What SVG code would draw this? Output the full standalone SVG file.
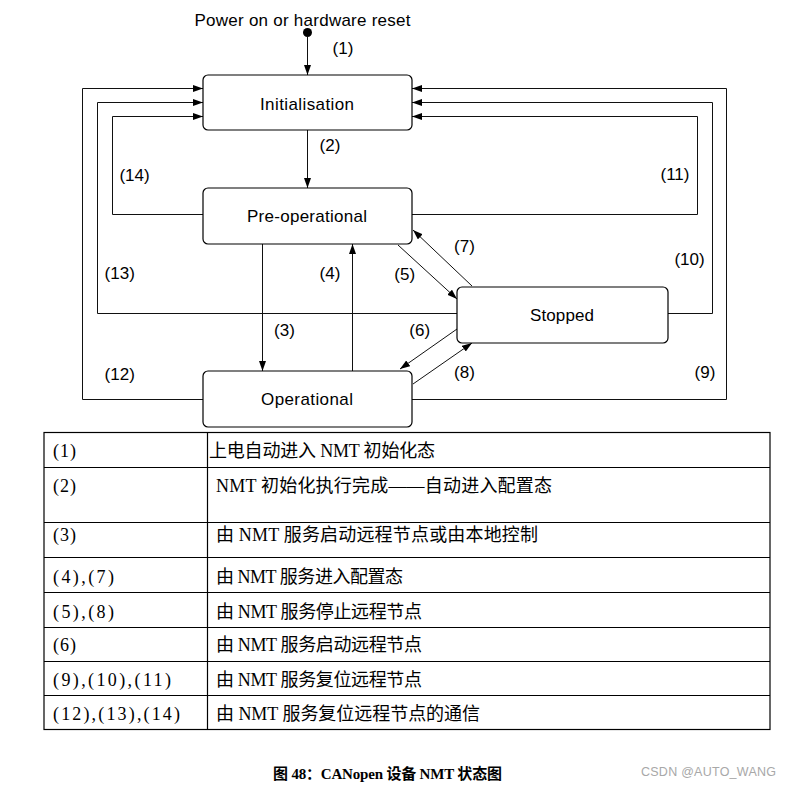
<svg xmlns="http://www.w3.org/2000/svg" width="793" height="788" viewBox="0 0 793 788">
<style>
.box{fill:#fff;stroke:#000;stroke-width:1.2}
.lbl{font-family:"Liberation Sans",Arial,sans-serif;font-size:17px;fill:#000;text-anchor:middle}
.c{fill:none;stroke:#111;stroke-width:1}
.tb{fill:none;stroke:#000;stroke-width:1.2}
.num{font-family:"Liberation Serif","Noto Sans CJK SC",serif;font-size:18px;fill:#000}
.cn{font-family:"Liberation Serif","Noto Sans CJK SC",serif;font-size:18px;fill:#000}
</style>
<defs>
<marker id="ah" markerUnits="userSpaceOnUse" markerWidth="11" markerHeight="8" refX="10" refY="3.5" orient="auto">
<path d="M0,0 L10,3.5 L0,7 z" fill="#000"/>
</marker>
</defs>
<rect width="793" height="788" fill="#fff"/>

<text class="lbl" x="302.5" y="26" textLength="216">Power on or hardware reset</text>

<g id="connectors">
<circle cx="307.5" cy="32.5" r="4.5" fill="#000"/>
<path class="c" d="M307.5,36 V75" marker-end="url(#ah)"/>
<path class="c" d="M307.5,130 V188" marker-end="url(#ah)"/>
<path class="c" d="M262.5,244 V371" marker-end="url(#ah)"/>
<path class="c" d="M352.5,371 V244" marker-end="url(#ah)"/>
<path class="c" d="M398,245 L457,299" marker-end="url(#ah)"/>
<path class="c" d="M472,286 L413,230" marker-end="url(#ah)"/>
<path class="c" d="M457,329 L400,369" marker-end="url(#ah)"/>
<path class="c" d="M413,384 L472,343" marker-end="url(#ah)"/>
<path class="c" d="M412,399.5 H726.5 V88.5 H412" marker-end="url(#ah)"/>
<path class="c" d="M668,313.5 H712.5 V102.5 H412" marker-end="url(#ah)"/>
<path class="c" d="M412,214.5 H697.5 V116.5 H412" marker-end="url(#ah)"/>
<path class="c" d="M203,399.5 H82.5 V88.5 H203" marker-end="url(#ah)"/>
<path class="c" d="M457,313.5 H97.5 V102.5 H203" marker-end="url(#ah)"/>
<path class="c" d="M203,214.5 H112.5 V116.5 H203" marker-end="url(#ah)"/>
<text class="lbl" x="343" y="53.5">(1)</text>
<text class="lbl" x="330" y="150.5">(2)</text>
<text class="lbl" x="284.5" y="336">(3)</text>
<text class="lbl" x="330" y="278.5">(4)</text>
<text class="lbl" x="404.7" y="279.5">(5)</text>
<text class="lbl" x="419.7" y="336">(6)</text>
<text class="lbl" x="464.5" y="251.5">(7)</text>
<text class="lbl" x="464.5" y="378">(8)</text>
<text class="lbl" x="705" y="378">(9)</text>
<text class="lbl" x="689.5" y="264.5">(10)</text>
<text class="lbl" x="675" y="179.5">(11)</text>
<text class="lbl" x="119.7" y="379.5">(12)</text>
<text class="lbl" x="119.7" y="278.5">(13)</text>
<text class="lbl" x="134.5" y="181">(14)</text>
</g>

<g id="initialisation">
<rect class="box" x="203" y="75" width="209" height="55" rx="5"/>
<text class="lbl" x="307" y="110" textLength="94">Initialisation</text>
</g>
<g id="preoperational">
<rect class="box" x="203" y="188" width="209" height="56" rx="5"/>
<text class="lbl" x="307" y="222" textLength="120">Pre-operational</text>
</g>
<g id="stopped">
<rect class="box" x="457" y="287" width="211" height="56" rx="5"/>
<text class="lbl" x="562" y="320.5" textLength="64">Stopped</text>
</g>
<g id="operational">
<rect class="box" x="203" y="371" width="209" height="56" rx="5"/>
<text class="lbl" x="307" y="405" textLength="92">Operational</text>
</g>

<g id="table">
<rect class="tb" x="44" y="432.5" width="726" height="297"/>
<path class="tb" d="M207.5,432.5 V729.5 M44,467.5 H770 M44,522.5 H770 M44,557.5 H770 M44,592.5 H770 M44,627.5 H770 M44,661.5 H770 M44,695.5 H770"/>
<text class="num" x="53" y="457" textLength="23">(1)</text>
<text class="num" x="53" y="492" textLength="23">(2)</text>
<text class="num" x="53" y="541" textLength="23">(3)</text>
<text class="num" x="53" y="583" textLength="61">(4),(7)</text>
<text class="num" x="53" y="618" textLength="61">(5),(8)</text>
<text class="num" x="53" y="651" textLength="23">(6)</text>
<text class="num" x="53" y="686" textLength="118">(9),(10),(11)</text>
<text class="num" x="53" y="720" textLength="127">(12),(13),(14)</text>
<text class="cn" x="209" y="457" textLength="226">上电自动进入 NMT 初始化态</text>
<text class="cn" x="216" y="492" textLength="336">NMT 初始化执行完成——自动进入配置态</text>
<text class="cn" x="216" y="541" textLength="322">由 NMT 服务启动远程节点或由本地控制</text>
<text class="cn" x="216" y="583" textLength="187">由 NMT 服务进入配置态</text>
<text class="cn" x="216" y="618" textLength="206">由 NMT 服务停止远程节点</text>
<text class="cn" x="216" y="651" textLength="206">由 NMT 服务启动远程节点</text>
<text class="cn" x="216" y="686" textLength="206">由 NMT 服务复位远程节点</text>
<text class="cn" x="216" y="720" textLength="264">由 NMT 服务复位远程节点的通信</text>
</g>

<text x="273" y="779" textLength="229" style="font-family:'Liberation Serif','Noto Sans CJK SC',serif;font-size:15px;font-weight:bold;fill:#000">图 48：CANopen 设备 NMT 状态图</text>
<text x="641" y="776" textLength="135" style="font-family:'Liberation Sans',Arial,sans-serif;font-size:12.5px;fill:#a8a8a8">CSDN @AUTO_WANG</text>
</svg>
